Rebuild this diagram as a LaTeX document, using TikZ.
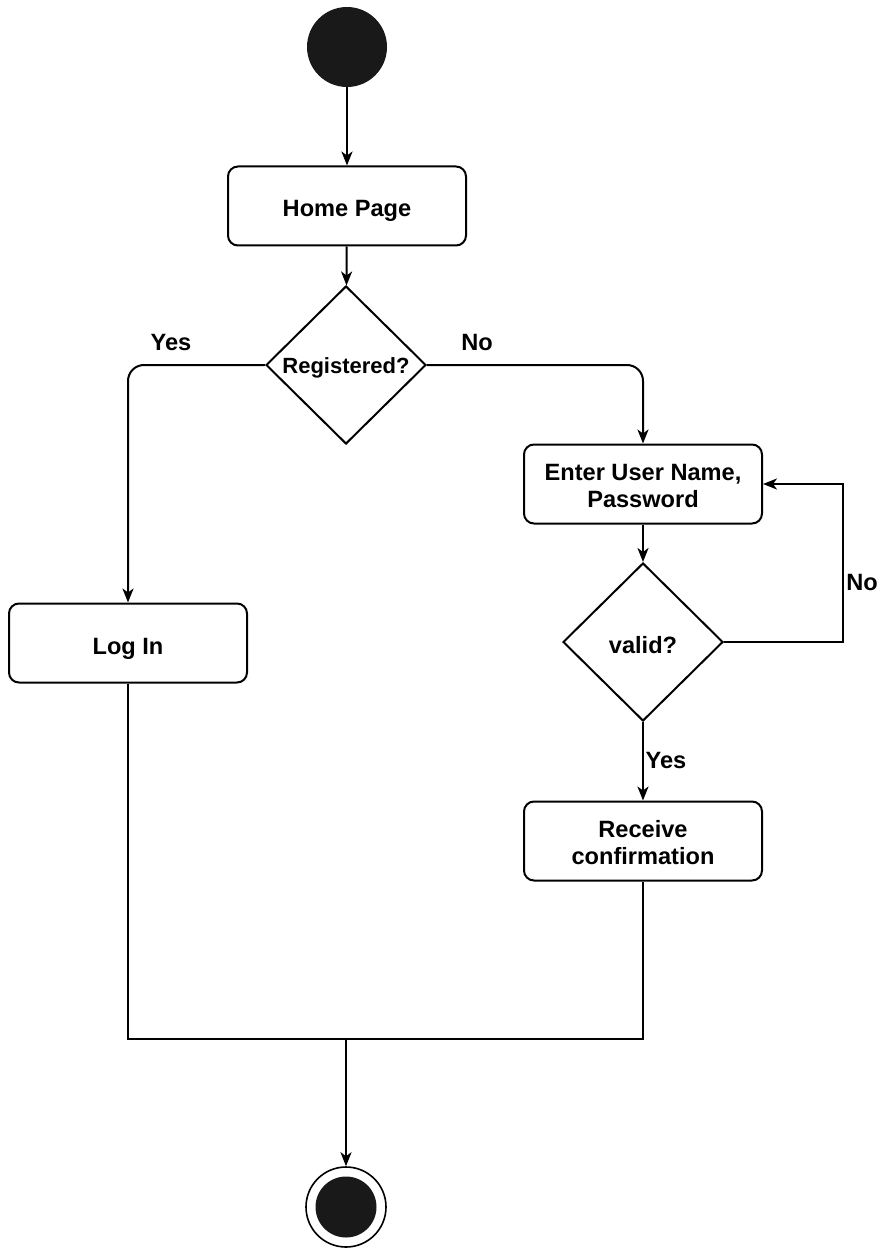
\documentclass[tikz,border=0pt]{standalone}
\usepackage{fontspec}
\setmainfont{Liberation Sans}
\usetikzlibrary{shapes.geometric,arrows.meta}
\begin{document}
\begin{tikzpicture}[x=1pt,y=-1pt,
  every node/.style={font=\fontsize{23.6}{27}\selectfont\bfseries},
  oneline/.style={text height=22pt,text depth=0pt},
  twoline/.style={text height=49pt,text depth=3pt},
  activity/.style={draw,line width=2pt,rounded corners=10pt,minimum width=238pt,minimum height=79pt,align=center,inner sep=0pt},
  decision/.style={draw,line width=2pt,diamond,minimum width=160pt,minimum height=158pt,inner sep=0pt,oneline},
  startnode/.style={circle,fill=black!90,minimum size=80pt,inner sep=0pt},
  endring/.style={circle,draw,line width=1.6pt,minimum size=80pt,inner sep=0pt},
  endcore/.style={circle,fill=black!90,minimum size=61pt,inner sep=0pt},
  flow/.style={line width=2pt,-{Stealth[length=14pt,width=11pt,inset=4pt]}},
  plain/.style={line width=2pt},
  lbl/.style={inner sep=0pt}]
\useasboundingbox (0,0) rectangle (881,1249);

% states and activities
\node[startnode] (start) at (347,47) {};
\node[activity,oneline] (home) at (347,206) {Home Page};
\node[decision,font=\fontsize{22}{26}\selectfont\bfseries,text height=16pt] (reg) at (346,365) {Registered?};
\node[activity,oneline] (login) at (128,643) {Log In};
\node[activity,twoline] (enter) at (643,484) {Enter User Name,\\Password};
\node[decision] (valid) at (643,642) {valid?};
\node[activity,twoline] (recv) at (643,841) {Receive\\confirmation};
\node[endring] (stop) at (346,1207) {};
\node[endcore] (stopcore) at (stop) {};
\coordinate (merge) at (346,1039);
\coordinate (loopcorner) at (843,642);

% connectors
\draw[flow] (start) -- (home);
\draw[flow] (home) -- (reg);
\draw[flow,rounded corners=16pt] (reg.west) -| (login.north);
\draw[flow,rounded corners=16pt] (reg.east) -| (enter.north);
\draw[flow] (enter) -- (valid);
\draw[flow] (valid.east) -- (loopcorner) |- (enter.east);
\draw[flow] (valid) -- (recv);
\draw[plain] (login.south) |- (merge) -| (recv.south);
\draw[flow] (merge) -- (stop);

% guard labels
\node[lbl] (yes1) at (171,342) {Yes};
\node[lbl] (no1) at (477,342) {No};
\node[lbl] (no2) at (862,582) {No};
\node[lbl] (yes2) at (666,760) {Yes};
\end{tikzpicture}
\end{document}
